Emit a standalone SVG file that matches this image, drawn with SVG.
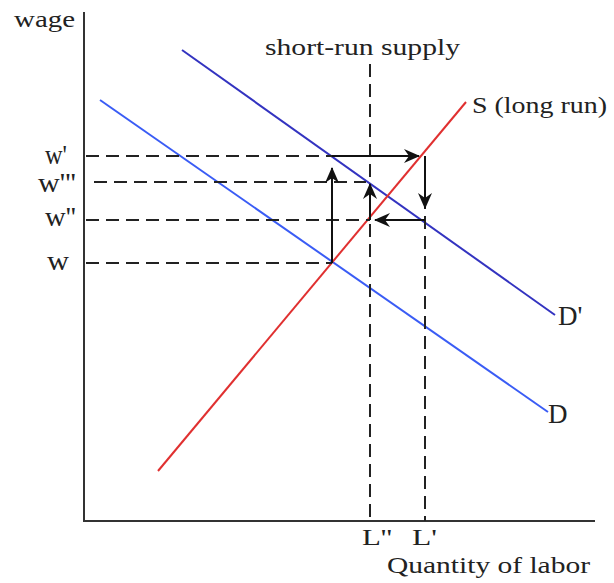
<svg xmlns="http://www.w3.org/2000/svg" width="614" height="583" viewBox="0 0 614 583">
<style>
text{font-family:"Liberation Serif","Times New Roman",serif;fill:#222;font-size:24px}
.big{font-size:27px}
.lab{font-size:24px}
.axis{stroke:#333;stroke-width:2;fill:none}
.dash{stroke:#222;stroke-width:2;stroke-dasharray:13,7;fill:none}
.arr{stroke:#111;stroke-width:2;fill:none;marker-end:url(#ah)}
.curve{stroke-width:2;fill:none}
</style>
<defs>
<marker id="ah" viewBox="0 0 16 14" refX="15" refY="7" markerWidth="16" markerHeight="14" markerUnits="userSpaceOnUse" orient="auto">
<path d="M0,0 L16,7 L0,14 L5,7 Z" fill="#111"/>
</marker>
</defs>
<rect width="614" height="583" fill="#fff"/>
<g id="axes">
<path class="axis" d="M84,12 V521 H595"/>
<text x="14" y="27" textLength="61" lengthAdjust="spacingAndGlyphs">wage</text>
<text x="387" y="573" textLength="203" lengthAdjust="spacingAndGlyphs">Quantity of labor</text>
</g>
<g id="labels">
<text class="big" x="45" y="164" textLength="22" lengthAdjust="spacingAndGlyphs">w'</text>
<text class="big" x="38" y="192" textLength="38" lengthAdjust="spacingAndGlyphs">w'''</text>
<text class="big" x="45" y="226" textLength="31" lengthAdjust="spacingAndGlyphs">w''</text>
<text class="big" x="47" y="270" textLength="22" lengthAdjust="spacingAndGlyphs">w</text>
<text class="lab" x="362" y="545" textLength="30" lengthAdjust="spacingAndGlyphs">L''</text>
<text class="lab" x="412" y="545" textLength="25" lengthAdjust="spacingAndGlyphs">L'</text>
</g>
<g id="curve-D">
<line class="curve" stroke="#3a5cf5" x1="100" y1="100" x2="548" y2="412"/>
<text class="big" x="548" y="423">D</text>
</g>
<g id="curve-Dprime">
<line class="curve" stroke="#3333c0" x1="182" y1="50" x2="555" y2="315"/>
<text class="big" x="558" y="325">D'</text>
</g>
<g id="curve-S">
<line class="curve" stroke="#e03030" x1="158" y1="471" x2="466" y2="102"/>
<text x="472" y="113" textLength="135" lengthAdjust="spacingAndGlyphs">S (long run)</text>
</g>
<g id="short-run-supply">
<line class="dash" x1="370" y1="64" x2="370" y2="521"/>
<text x="265" y="55" textLength="195" lengthAdjust="spacingAndGlyphs">short-run supply</text>
</g>
<g id="connectors">
<line class="dash" x1="86" y1="156" x2="332" y2="156"/>
<line class="dash" x1="94" y1="182" x2="366" y2="182"/>
<line class="dash" x1="86" y1="220" x2="370" y2="220"/>
<line class="dash" x1="86" y1="263" x2="332" y2="263"/>
<line class="dash" x1="425" y1="156" x2="425" y2="521"/>
<line class="arr" x1="332" y1="263" x2="332" y2="168"/>
<line class="arr" x1="332" y1="156" x2="419" y2="156"/>
<line class="arr" x1="425" y1="156" x2="425" y2="208"/>
<line class="arr" x1="425" y1="220" x2="375" y2="220"/>
<line class="arr" x1="370" y1="220" x2="370" y2="184"/>
</g>
</svg>
